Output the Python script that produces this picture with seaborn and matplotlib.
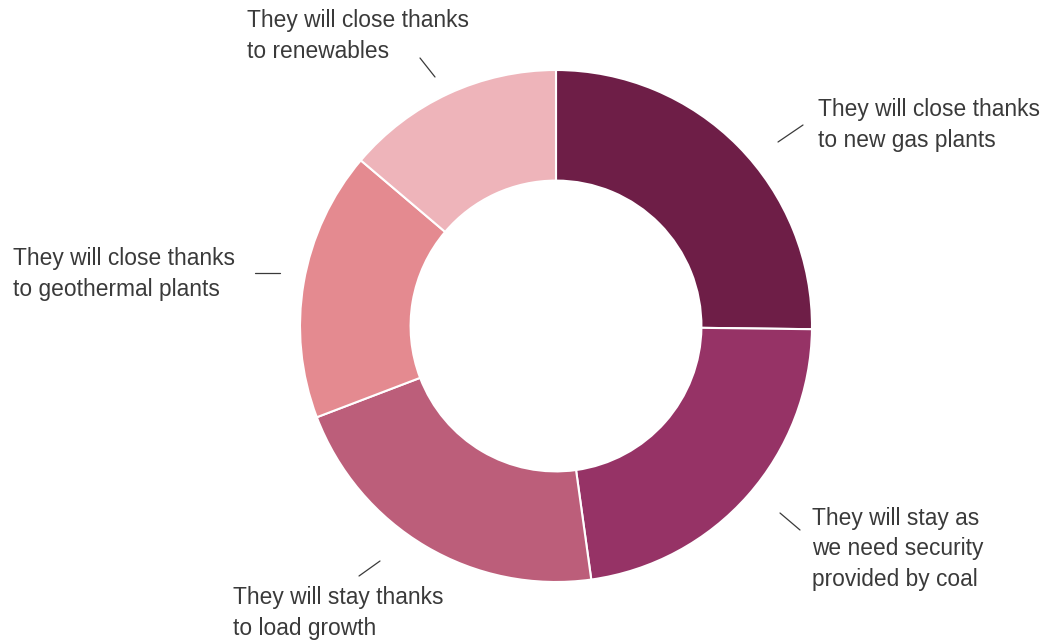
import matplotlib
matplotlib.use("Agg")
import matplotlib.pyplot as plt
import seaborn as sns

# Survey answers on the future of coal plants (share of respondents, %)
categories = [
    "They will close thanks\nto new gas plants",
    "They will stay as\nwe need security\nprovided by coal",
    "They will stay thanks\nto load growth",
    "They will close thanks\nto geothermal plants",
    "They will close thanks\nto renewables",
]
shares = [25.2, 22.6, 21.4, 17.0, 13.8]
colors = ["#6e1e47", "#963366", "#bc5e7a", "#e48a90", "#eeb4ba"]

sns.set_theme(style="white")
plt.rcParams["font.family"] = ["Liberation Sans", "DejaVu Sans"]

W, H = 1045, 644
CX, CY, R = 556, 326, 256  # pie centre and radius in pixels

fig = plt.figure(figsize=(W / 100, H / 100), dpi=100)
ax = fig.add_axes([0, 0, 1, 1])
ax.axis("off")

palette = sns.color_palette(colors)
ax.pie(
    shares,
    colors=palette,
    startangle=90,
    counterclock=False,
    radius=1.0,
    wedgeprops=dict(width=0.432, edgecolor="white", linewidth=1.5),
)
ax.set_xlim(-CX / R, (W - CX) / R)
ax.set_ylim(-(H - CY) / R, CY / R)
ax.set_aspect("auto")


def px(x, y):
    """Convert a pixel position (from top-left) into axis units."""
    return (x - CX) / R, (CY - y) / R


# label anchor (last-line baseline) and leader line endpoints, in pixels
label_layout = [
    ((818, 147), ((778, 142), (803, 125))),
    ((812, 586), ((780, 513), (800, 530))),
    ((233, 635), ((359, 576), (380, 561))),
    ((13, 296), ((255, 273), (280, 273))),
    ((247, 58), ((420, 58), (435, 77))),
]

for text, ((tx, ty), (p0, p1)) in zip(categories, label_layout):
    ax.text(*px(tx, ty), text, ha="left", va="baseline", fontsize=16.4,
            color="#3a3a3a", linespacing=1.42)
    (x0, y0), (x1, y1) = px(*p0), px(*p1)
    ax.plot([x0, x1], [y0, y1], color="#3a3a3a", linewidth=0.9)

fig.savefig("out.png", dpi=100, facecolor="white")
